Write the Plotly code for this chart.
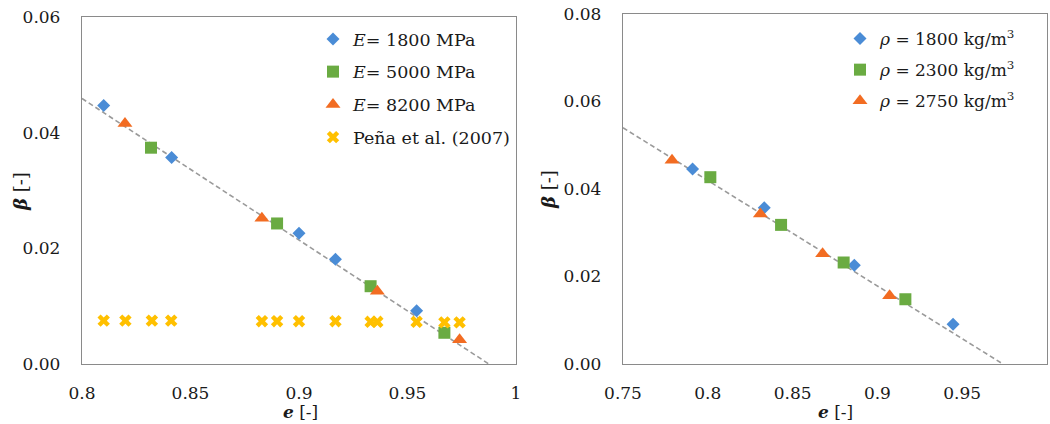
import plotly.graph_objects as go

# ---------------- Left panel data (e vs beta, by Young's modulus) ----------------
left_e_1800 = [0.810, 0.8413, 0.900, 0.9168, 0.9542]
left_b_1800 = [0.0447, 0.0357, 0.0226, 0.0181, 0.0092]

left_e_5000 = [0.8318, 0.8899, 0.933, 0.967]
left_b_5000 = [0.0374, 0.0243, 0.01345, 0.0054]

left_e_8200 = [0.8198, 0.8829, 0.9361, 0.974]
left_b_8200 = [0.0416, 0.0252, 0.0126, 0.0042]

pena_e = [0.810, 0.820, 0.8322, 0.8411, 0.8829, 0.8899, 0.900, 0.9168,
          0.933, 0.9361, 0.9542, 0.967, 0.974]
pena_b = [0.0075, 0.0075, 0.0075, 0.0075, 0.0074, 0.0074, 0.0074, 0.0074,
          0.0073, 0.0073, 0.0073, 0.0072, 0.0072]

trend_left_e = [0.8, 0.9875]
trend_left_b = [0.0459, 0.0]

# ---------------- Right panel data (e vs beta, by density) ----------------
right_e_1800 = [0.791, 0.8333, 0.8864, 0.9446]
right_b_1800 = [0.0446, 0.0357, 0.0226, 0.0091]

right_e_2300 = [0.8015, 0.8432, 0.8801, 0.9165]
right_b_2300 = [0.0427, 0.0318, 0.0232, 0.0148]

right_e_2750 = [0.7789, 0.831, 0.8677, 0.9072]
right_b_2750 = [0.0466, 0.0343, 0.0252, 0.0156]

trend_right_e = [0.75, 0.974]
trend_right_b = [0.054, 0.0]

left_names = ["<i>E</i>= 1800 MPa", "<i>E</i>= 5000 MPa", "<i>E</i>= 8200 MPa", "Peña et al. (2007)"]
right_names = ["<i>ρ</i> = 1800 kg/m<sup>3</sup>", "<i>ρ</i> = 2300 kg/m<sup>3</sup>",
               "<i>ρ</i> = 2750 kg/m<sup>3</sup>"]

BLUE = "#4a8cd6"
GREEN = "#6aab42"
ORANGE = "#f26c22"
YELLOW = "#ffc000"
FONT = "DejaVu Serif"
TXT = "#1a1a1a"

fig = go.Figure()

# trendlines
fig.add_trace(go.Scatter(x=trend_left_e, y=trend_left_b, mode="lines",
                         line=dict(color="#9a9a9a", width=1.6, dash="5px,3px"),
                         showlegend=False, hoverinfo="skip", xaxis="x", yaxis="y"))
fig.add_trace(go.Scatter(x=trend_right_e, y=trend_right_b, mode="lines",
                         line=dict(color="#9a9a9a", width=1.6, dash="5px,3px"),
                         showlegend=False, hoverinfo="skip", xaxis="x2", yaxis="y2"))

# left markers
fig.add_trace(go.Scatter(x=left_e_1800, y=left_b_1800, mode="markers", name=left_names[0],
                         marker=dict(symbol="diamond", size=10, color=BLUE),
                         legend="legend", legendgroup="l1", xaxis="x", yaxis="y"))
fig.add_trace(go.Scatter(x=left_e_5000, y=left_b_5000, mode="markers", name=left_names[1],
                         marker=dict(symbol="square", size=12, color=GREEN),
                         legend="legend", legendgroup="l2", xaxis="x", yaxis="y"))
fig.add_trace(go.Scatter(x=left_e_8200, y=left_b_8200, mode="markers", name=left_names[2],
                         marker=dict(symbol="triangle-up", size=13, color=ORANGE),
                         legend="legend", legendgroup="l3", xaxis="x", yaxis="y"))
fig.add_trace(go.Scatter(x=pena_e, y=pena_b, mode="markers", name=left_names[3],
                         marker=dict(symbol="x", size=11, color=YELLOW),
                         legend="legend", legendgroup="l4", xaxis="x", yaxis="y"))

# right markers
fig.add_trace(go.Scatter(x=right_e_1800, y=right_b_1800, mode="markers", name=right_names[0],
                         marker=dict(symbol="diamond", size=10, color=BLUE),
                         legend="legend2", legendgroup="r1", xaxis="x2", yaxis="y2"))
fig.add_trace(go.Scatter(x=right_e_2300, y=right_b_2300, mode="markers", name=right_names[1],
                         marker=dict(symbol="square", size=12, color=GREEN),
                         legend="legend2", legendgroup="r2", xaxis="x2", yaxis="y2"))
fig.add_trace(go.Scatter(x=right_e_2750, y=right_b_2750, mode="markers", name=right_names[2],
                         marker=dict(symbol="triangle-up", size=13, color=ORANGE),
                         legend="legend2", legendgroup="r3", xaxis="x2", yaxis="y2"))

W, H = 1050, 424
axis_common = dict(showgrid=False, zeroline=False, showline=True, mirror=True,
                   linecolor="#8a8a8a", linewidth=1.3, ticks="outside",
                   tickcolor="rgba(0,0,0,0)", automargin=False,
                   tickfont=dict(family=FONT, size=17, color=TXT))

fig.update_layout(
    template="none",
    width=W, height=H,
    margin=dict(l=0, r=0, t=0, b=0, autoexpand=False),
    paper_bgcolor="white", plot_bgcolor="white",
    font=dict(family=FONT, size=17, color=TXT),
    xaxis=dict(domain=[82 / W, 516 / W], range=[0.8, 1.0], dtick=0.05, tick0=0.8,
               ticklen=13, anchor="y", **axis_common),
    yaxis=dict(domain=[1 - 364 / H, 1 - 17 / H], range=[0, 0.06], dtick=0.02,
               tickformat=".2f", ticklen=17, anchor="x", **axis_common),
    xaxis2=dict(domain=[623 / W, 1047 / W], range=[0.75, 1.0], dtick=0.05, tick0=0.75,
                ticklen=13, anchor="y2", **axis_common),
    yaxis2=dict(domain=[1 - 364 / H, 1 - 14 / H], range=[0, 0.08], dtick=0.02,
                tickformat=".2f", ticklen=17, anchor="x2", **axis_common),
    legend=dict(x=313 / W, y=1 - 21 / H, xanchor="left", yanchor="top",
                bgcolor="rgba(0,0,0,0)", tracegroupgap=7, borderwidth=0,
                font=dict(family=FONT, size=17.5, color=TXT)),
    legend2=dict(x=840 / W, y=1 - 21 / H, xanchor="left", yanchor="top",
                 bgcolor="rgba(0,0,0,0)", tracegroupgap=6, borderwidth=0,
                 font=dict(family=FONT, size=17, color=TXT)),
    annotations=[
        dict(text="<b><i>e</i></b> [-]", x=300 / W, y=1 - 412 / H, xref="paper", yref="paper",
             showarrow=False, xanchor="center", yanchor="middle",
             font=dict(family=FONT, size=17, color=TXT)),
        dict(text="<b><i>e</i></b> [-]", x=835 / W, y=1 - 412 / H, xref="paper", yref="paper",
             showarrow=False, xanchor="center", yanchor="middle",
             font=dict(family=FONT, size=17, color=TXT)),
        dict(text="<b><i>β</i></b> [-]", x=20 / W, y=1 - 192 / H, xref="paper", yref="paper",
             showarrow=False, xanchor="center", yanchor="middle", textangle=-90,
             font=dict(family=FONT, size=18, color=TXT)),
        dict(text="<b><i>β</i></b> [-]", x=548 / W, y=1 - 190 / H, xref="paper", yref="paper",
             showarrow=False, xanchor="center", yanchor="middle", textangle=-90,
             font=dict(family=FONT, size=18, color=TXT)),
    ],
)

fig.write_html("out.html")
